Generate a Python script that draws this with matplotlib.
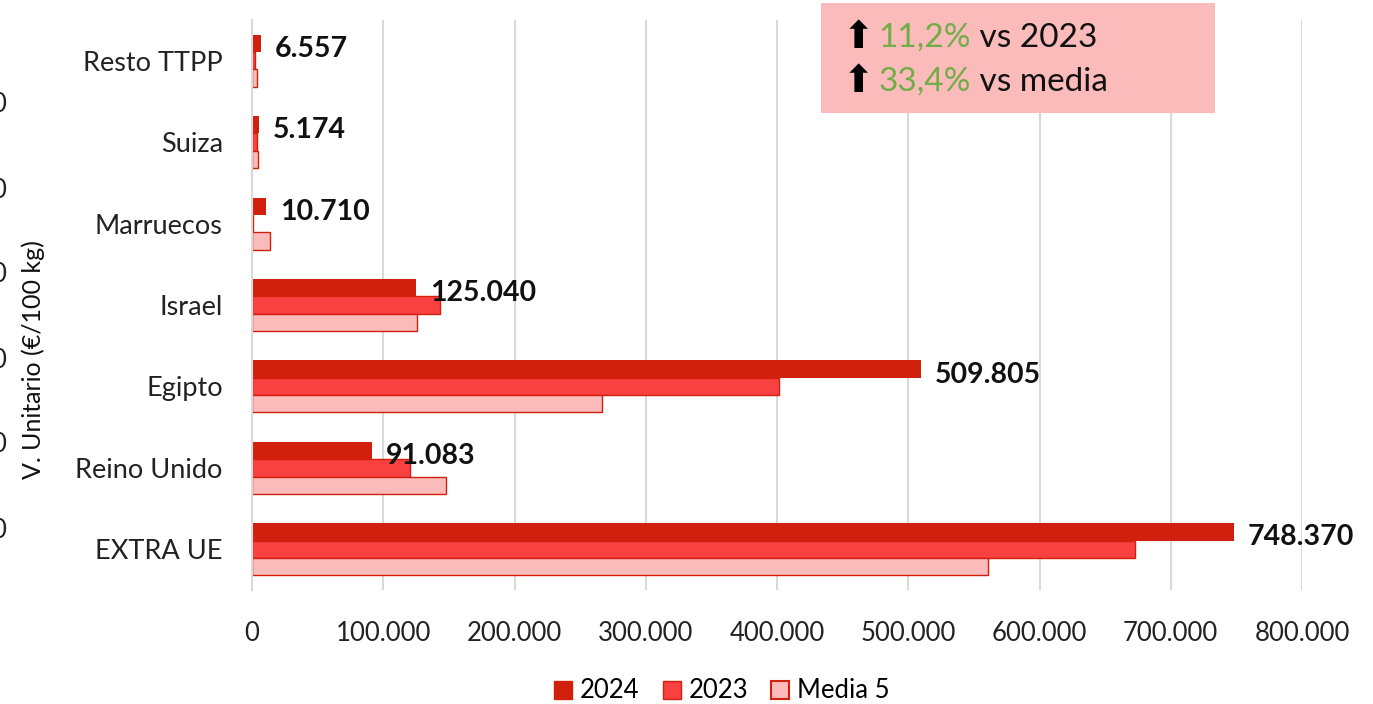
"""
Valor de exportación por destino extra-UE: 2024, 2023 y media de 5 años.
"""

import matplotlib.pyplot as plt
import numpy as np
from matplotlib.patches import Patch
from matplotlib.ticker import FuncFormatter

plt.rcParams["font.family"] = ["Lato", "DejaVu Sans"]

# Datos
categories: list[str] = [
    "EXTRA UE",
    "Reino Unido",
    "Egipto",
    "Israel",
    "Marruecos",
    "Suiza",
    "Resto TTPP",
]
values_2024: list[int] = [748370, 91083, 509805, 125040, 10710, 5174, 6557]
values_2023: list[int] = [673000, 120400, 401500, 143200, 500, 4000, 2500]
values_media: list[int] = [561000, 147800, 266700, 125700, 13700, 4500, 4000]
x_ticks: list[int] = [0, 100000, 200000, 300000, 400000, 500000, 600000, 700000, 800000]

C_2024 = "#d2200f"
C_2023 = "#f94141"
C_MEDIA = "#fbbbbb"
C_EDGE = "#d2200f"

fig = plt.figure(figsize=(13.73, 7.04), dpi=100)
ax = fig.add_axes([252 / 1373, 1 - 590 / 704, 1050 / 1373, 570 / 704])

y: np.ndarray = np.arange(len(categories))
h = 0.213

ax.barh(y + h, values_2024, height=h, color=C_2024, zorder=3)
ax.barh(y, values_2023, height=h, color=C_2023, edgecolor=C_EDGE, linewidth=1, zorder=3)
ax.barh(y - h, values_media, height=h, color=C_MEDIA, edgecolor=C_EDGE, linewidth=1, zorder=3)

# Etiquetas de 2024
for yi, v in zip(y, values_2024):
    ax.annotate(
        f"{v:,}".replace(",", "."),
        xy=(v, yi + h),
        xytext=(10, -4),
        textcoords="offset points",
        va="center",
        ha="left",
        fontsize=20.5,
        fontweight="bold",
        color="#111111",
        zorder=5,
    )

ax.set_xlim(0, 800000)
ax.set_ylim(-0.5, len(categories) - 0.5)
ax.set_xticks(x_ticks)
ax.xaxis.set_major_formatter(FuncFormatter(lambda v, _: f"{int(v):,}".replace(",", ".")))
ax.set_yticks(y)
ax.set_yticklabels(categories)
ax.tick_params(axis="both", length=0, labelcolor="#222222")
ax.tick_params(axis="x", pad=22, labelsize=18.5)
ax.tick_params(axis="y", pad=21, labelsize=19.5)

ax.grid(axis="x", color="#d9d9d9", linewidth=1.5, zorder=0)
for side in ["top", "right", "bottom"]:
    ax.spines[side].set_visible(False)
ax.spines["left"].set_color("#d9d9d9")
ax.spines["left"].set_linewidth(1.5)
ax.spines["left"].set_zorder(4)

# Leyenda
handles = [
    Patch(facecolor=C_2024, edgecolor=C_2024),
    Patch(facecolor=C_2023, edgecolor=C_EDGE),
    Patch(facecolor=C_MEDIA, edgecolor=C_EDGE, linewidth=1.5),
]
fig.legend(
    handles,
    ["2024", "2023", "Media 5"],
    loc="center",
    bbox_to_anchor=(722 / 1373, 1 - 691 / 704),
    ncol=3,
    frameon=False,
    fontsize=18.5,
    handlelength=0.7,
    handleheight=0.7,
    handletextpad=0.3,
    columnspacing=0.9,
)

# Recuadro con variaciones
box = plt.Rectangle(
    (821 / 1373, 1 - 113 / 704),
    394 / 1373,
    110 / 704,
    transform=fig.transFigure,
    facecolor="#fbbbbb",
    edgecolor="none",
    zorder=6,
    clip_on=False,
)
ax.add_artist(box)

lines = [("11,2%", " vs 2023", 38), ("33,4%", " vs media", 82)]
for pct, rest, ypx in lines:
    t0 = ax.text(
        843 / 1373,
        1 - ypx / 704,
        "⬆",
        transform=fig.transFigure,
        family=["DejaVu Sans"],
        fontsize=27,
        va="center",
        ha="left",
        color="black",
        zorder=7,
        clip_on=False,
    )
    t1 = ax.annotate(
        pct,
        xy=(1, 0.5),
        xycoords=t0,
        xytext=(3, 0),
        textcoords="offset points",
        va="center",
        ha="left",
        fontsize=24,
        color="#70ad47",
        zorder=7,
        annotation_clip=False,
    )
    ax.annotate(
        rest,
        xy=(1, 0.5),
        xycoords=t1,
        va="center",
        ha="left",
        fontsize=24,
        color="#111111",
        zorder=7,
        annotation_clip=False,
    )

# Restos de otro gráfico en el borde izquierdo
fig.text(33 / 1373, 1 - 360 / 704, "V. Unitario (€/100 kg)", rotation=90,
         va="center", ha="center", fontsize=18, color="#111111")
for ypx in [105, 190, 275, 360, 445, 530]:
    fig.text(6 / 1373, 1 - ypx / 704, "0", ha="right", va="center",
             fontsize=18.5, color="#222222")

fig.savefig("out.png", dpi=100)
